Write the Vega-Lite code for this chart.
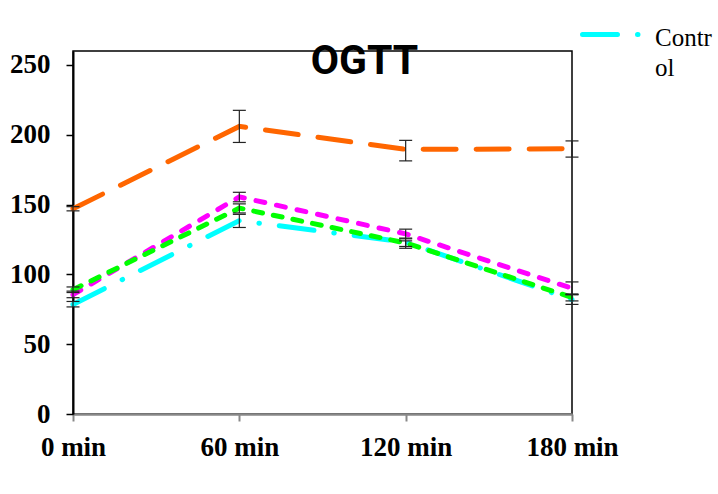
{
  "$schema": "https://vega.github.io/schema/vega-lite/v6.json",
  "width": 499,
  "height": 363,
  "autosize": {"type": "none"},
  "padding": {"left": 73, "top": 51, "right": 146, "bottom": 80},
  "background": "white",
  "config": {"view": {"stroke": "black", "strokeWidth": 1.5}, "font": "Liberation Serif"},
  "title": {"text": "OGTT", "font": "Roboto", "fontSize": 41, "fontWeight": "bold", "color": "black", "anchor": "middle", "baseline": "alphabetic", "offset": -24, "dx": 42, "dy": 89},
  "data": {"values": [
    {"group": "Control", "time": 0, "value": 78.5, "lo": 76.7, "hi": 80.6},
    {"group": "Control", "time": 60, "value": 138.5, "lo": 133.6, "hi": 143},
    {"group": "Control", "time": 120, "value": 123, "lo": 118.7, "hi": 126},
    {"group": "Control", "time": 180, "value": 82, "lo": 78.5, "hi": 85.5},
    {"group": "Group 2", "time": 0, "value": 85.5, "lo": 83.3, "hi": 88},
    {"group": "Group 2", "time": 60, "value": 155.5, "lo": 152, "hi": 158.8},
    {"group": "Group 2", "time": 120, "value": 129, "lo": 125.5, "hi": 132.4},
    {"group": "Group 2", "time": 180, "value": 90, "lo": 85.5, "hi": 94.6},
    {"group": "Group 3", "time": 0, "value": 89, "lo": 87, "hi": 91},
    {"group": "Group 3", "time": 60, "value": 147.5, "lo": 144, "hi": 150.5},
    {"group": "Group 3", "time": 120, "value": 122.5, "lo": 120, "hi": 124},
    {"group": "Group 3", "time": 180, "value": 83.5, "lo": 81, "hi": 86},
    {"group": "Group 4", "time": 0, "value": 147, "lo": 145.5, "hi": 148.5},
    {"group": "Group 4", "time": 60, "value": 206, "lo": 194.5, "hi": 217.5},
    {"group": "Group 4", "time": 120, "value": 189.5, "lo": 181.3, "hi": 196},
    {"group": "Group 4", "time": 180, "value": 190, "lo": 184, "hi": 195.6}
  ]},
  "layer": [
    {
      "mark": {"type": "line", "strokeWidth": 5, "strokeCap": "round"},
      "encoding": {
        "x": {"field": "time", "type": "quantitative", "scale": {"domain": [0, 180]},
          "axis": {"values": [0, 60, 120, 180], "labelExpr": "datum.value + ' min'", "title": null, "grid": false,
            "domainColor": "#888888", "domainWidth": 2.5, "tickColor": "#888888", "tickWidth": 2, "tickSize": 7,
            "labelFont": "Liberation Serif", "labelFontWeight": "bold", "labelFontSize": 27, "labelColor": "black",
            "labelPadding": 13, "labelFlush": false, "labelOverlap": false, "labelBound": false}},
        "y": {"field": "value", "type": "quantitative", "scale": {"domain": [0, 250]},
          "axis": {"values": [0, 50, 100, 150, 200, 250], "title": null, "grid": false,
            "domainColor": "black", "domainWidth": 2, "tickColor": "black", "tickWidth": 1.5, "tickSize": 7,
            "labelFont": "Liberation Serif", "labelFontWeight": "bold", "labelFontSize": 27, "labelColor": "black",
            "labelPadding": 16, "labelOverlap": false, "labelBound": false, "labelFlush": false}},
        "color": {"field": "group", "type": "nominal",
          "scale": {"domain": ["Control", "Group 2", "Group 3", "Group 4"], "range": ["#00FFFF", "#FF00FF", "#00FF00", "#FF6600"]},
          "legend": {"values": ["Control"], "orient": "none", "legendX": 507, "legendY": -49, "title": null, "padding": 0,
            "symbolType": "stroke", "symbolSize": 3600, "symbolStrokeWidth": 5, "symbolDash": [40, 15, 0.5, 14],
            "labelFont": "Liberation Serif", "labelFontSize": 25, "labelFontWeight": "normal", "labelColor": "black",
            "labelExpr": "datum.label == 'Control' ? ['Contr', 'ol'] : datum.label", "labelBaseline": "alphabetic",
            "labelOffset": 10, "labelLimit": 300,
            "encode": {
              "symbols": {"update": {"strokeDash": {"value": [35, 19, 0.5, 14]}, "strokeCap": {"value": "round"}}},
              "labels": {"update": {"dy": {"value": 11}, "lineHeight": {"value": 30}}}
            }}},
        "strokeDash": {"field": "group", "type": "nominal",
          "scale": {"domain": ["Control", "Group 2", "Group 3", "Group 4"], "range": [[35, 20, 0.5, 20], [9, 12], [9, 11], [33, 20]]},
          "legend": null}
      }
    },
    {
      "mark": {"type": "rule", "color": "#222222", "strokeWidth": 1.2},
      "encoding": {
        "x": {"field": "time", "type": "quantitative"},
        "y": {"field": "lo", "type": "quantitative"},
        "y2": {"field": "hi"}
      }
    },
    {
      "mark": {"type": "tick", "orient": "horizontal", "color": "#222222", "size": 13, "thickness": 1.2, "opacity": 1},
      "encoding": {
        "x": {"field": "time", "type": "quantitative"},
        "y": {"field": "lo", "type": "quantitative"}
      }
    },
    {
      "mark": {"type": "tick", "orient": "horizontal", "color": "#222222", "size": 13, "thickness": 1.2, "opacity": 1},
      "encoding": {
        "x": {"field": "time", "type": "quantitative"},
        "y": {"field": "hi", "type": "quantitative"}
      }
    }
  ]
}
